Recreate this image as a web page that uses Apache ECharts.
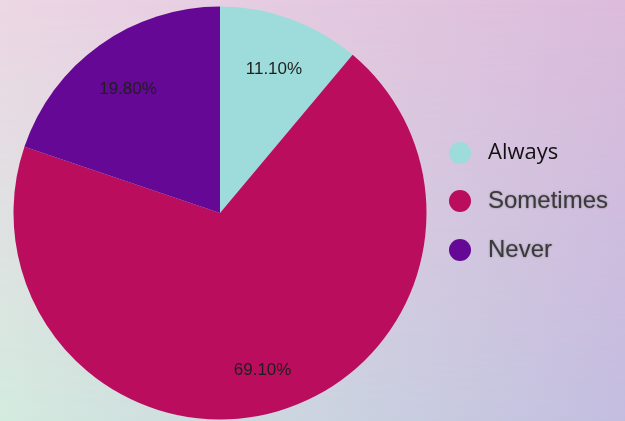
<!DOCTYPE html>
<html>
<head>
<meta charset="utf-8">
<script src="https://cdn.jsdelivr.net/npm/echarts@6/dist/echarts.min.js"></script>
<style>
  html, body { margin: 0; padding: 0; }
  #wrap {
    position: relative; width: 625px; height: 421px; overflow: hidden;
    background: linear-gradient(to right, #edd7e5, #dcbcdc);
  }
  /* lower half of the backdrop, faded in from the top */
  #wrap::before {
    content: ""; position: absolute; inset: 0;
    background: linear-gradient(to right, #d3ebde, #c3bde0);
    -webkit-mask-image: linear-gradient(to bottom, transparent, #000);
    mask-image: linear-gradient(to bottom, transparent, #000);
  }
  #chart { position: absolute; left: 0; top: 0; width: 625px; height: 421px; }
</style>
</head>
<body>
<div id="wrap"><div id="chart"></div></div>
<script>
// Survey answers and their shares (percent)
const categories = ['Always', 'Sometimes', 'Never'];
const shares = [11.1, 69.1, 19.8];
const colors = ['#9edcdc', '#bb0d5e', '#650895'];

const pieData = categories.map((name, i) => ({
  name: name,
  value: shares[i],
  itemStyle: { color: colors[i] }
}));

const center = [220, 213];
const R = 206.5;

const chart = echarts.init(document.getElementById('chart'), null, { renderer: 'canvas' });
chart.setOption({
  animation: false,
  backgroundColor: 'transparent',
  legend: {
    orient: 'vertical',
    left: 449,
    top: 142,
    padding: 0,
    icon: 'circle',
    itemWidth: 22,
    itemHeight: 22,
    itemGap: 25,
    data: categories,
    formatter: name => name === 'Always' ? '{a|' + name + '}' : '{b|' + name + '}',
    textStyle: {
      padding: [0, 0, 0, 12],
      rich: {
        a: { fontFamily: 'Open Sans', fontSize: 22, color: '#111111' },
        b: {
          fontFamily: 'Liberation Sans', fontSize: 24, color: '#3a3a3a',
          textShadowColor: 'rgba(40,40,40,0.45)', textShadowBlur: 2
        }
      }
    }
  },
  series: [
    {
      type: 'pie',
      center: center,
      radius: [0, R],
      startAngle: 90,
      clockwise: true,
      silent: true,
      label: { show: false },
      labelLine: { show: false },
      data: pieData
    },
    {
      // transparent ring that carries the percentage labels
      type: 'pie',
      center: center,
      radius: [R * 0.5, R],
      startAngle: 90,
      clockwise: true,
      silent: true,
      legendHoverLink: false,
      itemStyle: { color: 'rgba(0,0,0,0)' },
      label: {
        show: true,
        position: 'inside',
        fontFamily: 'Liberation Sans',
        fontSize: 17,
        color: '#1e1e1e',
        formatter: p => p.value.toFixed(2) + '%'
      },
      labelLayout: { dy: 5 },
      labelLine: { show: false },
      data: categories.map((name, i) => ({ name: name, value: shares[i] }))
    }
  ]
});
</script>
</body>
</html>
